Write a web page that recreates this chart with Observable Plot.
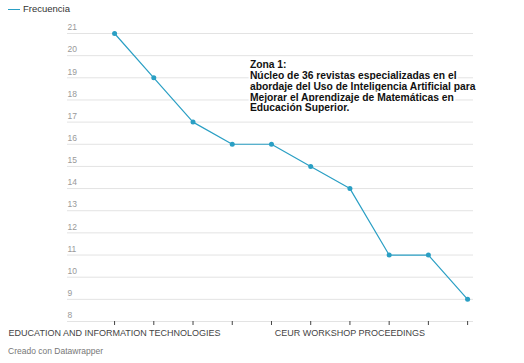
<!DOCTYPE html>
<html>
<head>
<meta charset="utf-8">
<script src="https://cdn.jsdelivr.net/npm/d3@7"></script>
<script src="https://cdn.jsdelivr.net/npm/@observablehq/plot@0.6"></script>
<style>
  html, body { margin: 0; padding: 0; background: #fff; width: 524px; height: 363px; overflow: hidden; font-family: Arial, "Liberation Sans", sans-serif; }
  #legend { height: 20px; position: relative; font-size: 9.5px; color: #333; }
  #legend .sw { position: absolute; left: 8px; top: 9px; width: 12px; height: 0; border-top: 1.5px solid #2a9fc4; }
  #legend .lab { position: absolute; left: 23px; top: 3px; }
  #footer { font-size: 8.5px; color: #777; padding-left: 8px; margin-top: 4px; }
</style>
</head>
<body>
<div id="legend"><span class="sw"></span><span class="lab">Frecuencia</span></div>
<div id="chart"></div>
<div id="footer">Creado con Datawrapper</div>
<script>
// Data
const categories = [
  "EDUCATION AND INFORMATION TECHNOLOGIES",
  "", "", "", "", "",
  "CEUR WORKSHOP PROCEEDINGS",
  "", "", ""
];
const frecuencia = [21, 19, 17, 16, 16, 15, 14, 11, 11, 9];
const yTicks = [8, 9, 10, 11, 12, 13, 14, 15, 16, 17, 18, 19, 20, 21];
const annotation = "Zona 1:\nNúcleo de 36 revistas especializadas en el\nabordaje del Uso de Inteligencia Artificial para\nMejorar el Aprendizaje de Matemáticas en\nEducación Superior.";

const data = frecuencia.map((v, i) => ({i, cat: categories[i], v}));
const idx = categories.map((_, i) => i);
const gridX1 = -1.2, gridX2 = 9.15;

const chart = Plot.plot({
  width: 524,
  height: 322,
  marginTop: 13,
  marginBottom: 21,
  marginLeft: 67,
  marginRight: 51,
  style: {fontFamily: "Arial, 'Liberation Sans', sans-serif", background: "#fff"},
  x: {domain: [gridX1, gridX2], axis: null},
  y: {domain: [8, 21], axis: null},
  marks: [
    Plot.ruleY(yTicks, {stroke: "#e3e3e3", strokeWidth: 1}),
    Plot.text(yTicks, {x: gridX1, y: d => d, text: d => String(d), textAnchor: "start", dy: -6, fontSize: 8.5, fill: "#999"}),
    Plot.axisX(idx, {tickSize: 4, tickPadding: 4, tickFormat: i => categories[i], label: null, fontSize: 9, color: "#444", stroke: "#444", strokeWidth: 1}),
    Plot.line(data, {x: "i", y: "v", stroke: "#2a9fc4", strokeWidth: 1.2}),
    Plot.dot(data, {x: "i", y: "v", r: 2.5, fill: "#2a9fc4"}),
    Plot.text([annotation], {x: 3.45, y: 19.78, text: d => d, textAnchor: "start", lineAnchor: "top", fontSize: 10.3, fontWeight: "bold", fill: "#111", lineHeight: 1.05, stroke: "white", strokeWidth: 4})
  ]
});
document.getElementById("chart").appendChild(chart);
</script>
</body>
</html>
